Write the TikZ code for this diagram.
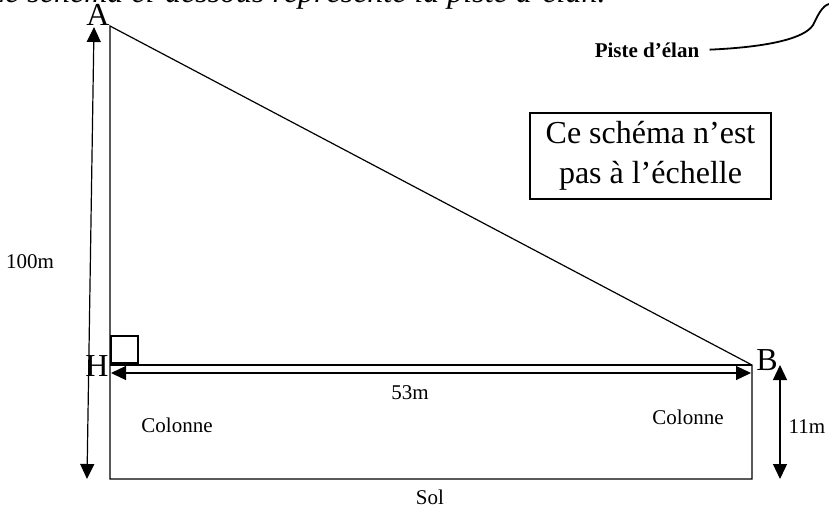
\documentclass[tikz,border=0pt]{standalone}
\usepackage{fontspec}
\setmainfont{Liberation Serif}
\usetikzlibrary{arrows.meta,positioning}

\begin{document}
\begin{tikzpicture}[x=0.5pt, y=-0.5pt,
    line/.style={line width=0.6pt, black},
    dim/.style={{Triangle[length=7.5pt, width=7pt]}-{Triangle[length=7.5pt, width=7pt]}, line width=0.6pt, black},
    sommet/.style={font=\fontsize{16}{16}\selectfont, inner sep=0pt},
    lab/.style={font=\fontsize{10.5}{12}\selectfont, inner sep=1pt},
]
\useasboundingbox (0,0) rectangle (829,509);
\clip (0,0) rectangle (829,509);

% Consigne (coupee en haut)
\node[anchor=base west, inner sep=0pt, font=\fontsize{16}{16}\selectfont\itshape] (consigne) at (-13,2) {Le schéma ci-dessous représente la piste d’élan.};

% Sommets
\coordinate (A) at (110,26);
\coordinate (H) at (110,365);
\coordinate (B) at (752,365);
\coordinate (G) at (110,479);
\coordinate (D) at (752,479);
\node[sommet] (lA) at (98,15) {A};
\node[sommet] (lH) at (97,366) {H};
\node[sommet] (lB) at (767,360) {B};

% Triangle et colonne
\draw[line] (A) -- (G) -- (D) -- (B) -- cycle;
\draw[line] (H) -- (B);
\draw[line] (H) ++(1,-2) rectangle ++(27,-27);

% Cotes
\coordinate (h100) at (94,27);
\coordinate (b100) at (87,479);
\coordinate (g53) at (111,373);
\coordinate (d53) at (751,373);
\coordinate (h11) at (780,365);
\coordinate (b11) at (780,479);
\draw[dim] (h100) -- (b100);
\draw[dim] (g53) -- (d53);
\draw[dim] (h11) -- (b11);
\node[lab] (l100) at (30,262) {100m};
\node[lab] (l53) at (410,393) {53m};
\node[lab] (l11) at (807,427) {11m};

% Textes
\node[lab] (col1) at (177,425) {Colonne};
\node[lab] (col2) at (688,417) {Colonne};
\node[lab] (sol) at (430,497) {Sol};
\node[draw, line width=0.7pt, minimum width=120.5pt, minimum height=43pt, align=center, inner sep=2pt,
      font=\fontsize{16}{20}\selectfont] (note) at (650.5,156) {Ce schéma n’est\\pas à l’échelle};

% Piste d'elan
\node[lab, font=\fontsize{10.5}{12}\selectfont\bfseries] (piste) at (647,50) {Piste d’élan};
\coordinate (haut) at (829,4);
\draw[line, line width=0.9pt, shorten <=4pt] (piste.east) .. controls (770,47) and (805,38) .. (813,25) .. controls (818,15) and (822,6) .. (haut);
\end{tikzpicture}
\end{document}
